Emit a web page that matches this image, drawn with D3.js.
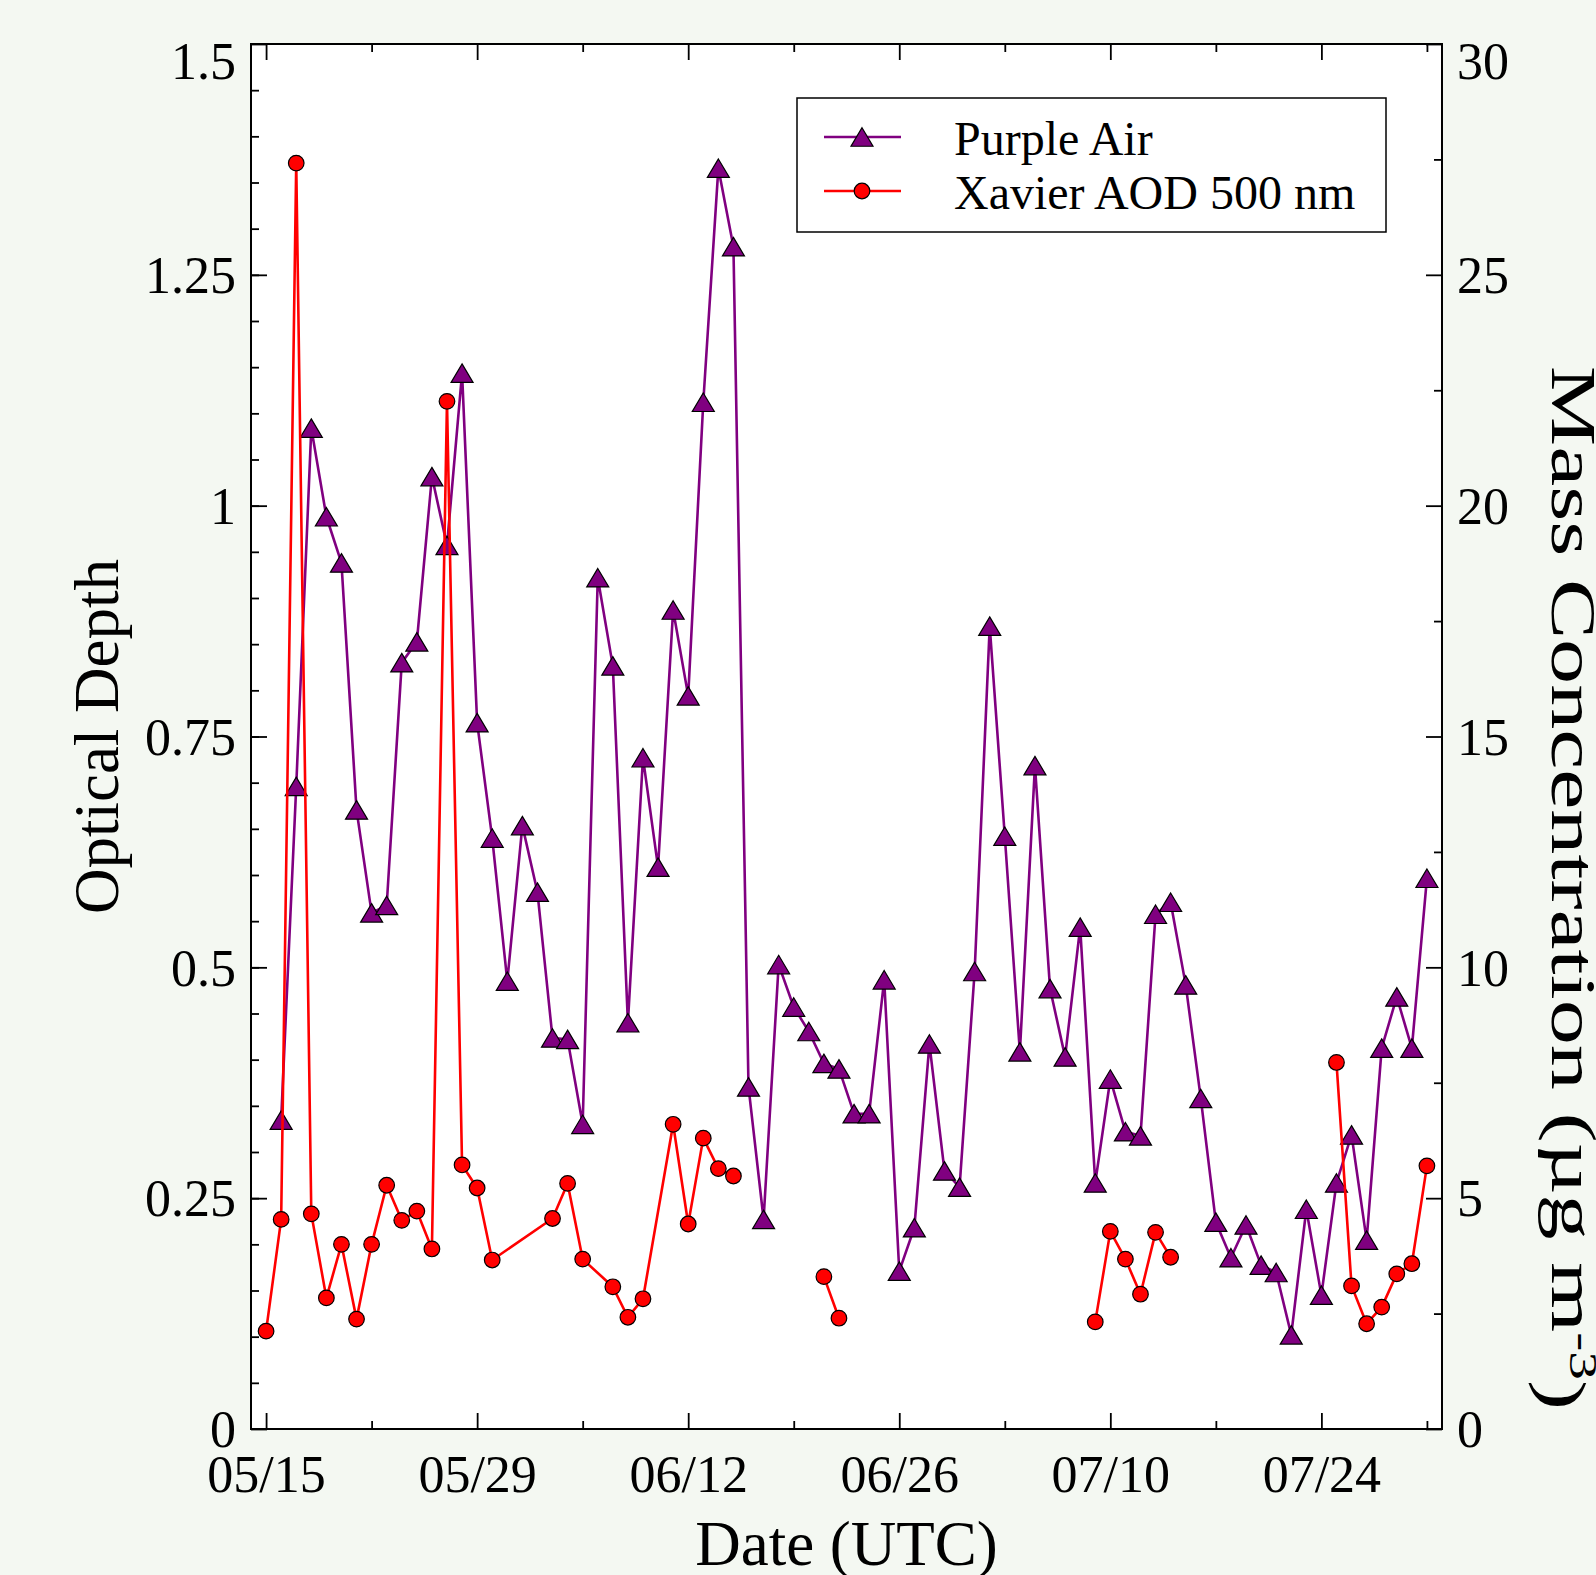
<!DOCTYPE html>
<html lang="en">
<head>
<meta charset="utf-8" />
<title>Purple Air vs Xavier AOD</title>
<style>
  * {margin: 0; padding: 0;}
  body {background: #f4f8f2;}
  svg {display: block;}
  text {font-family: "Liberation Serif", "Times New Roman", Times, serif; fill: #000;}
</style>
<script src="https://cdn.jsdelivr.net/npm/d3@7"></script>
</head>
<body>
<div id="viz"></div>
<script>

// ---- data ----
var purpleDates = [
  "05/16","05/17","05/18","05/19","05/20","05/21","05/22","05/23","05/24","05/25",
  "05/26","05/27","05/28","05/29","05/30","05/31","06/01","06/02","06/03","06/04",
  "06/05","06/06","06/07","06/08","06/09","06/10","06/11","06/12","06/13","06/14",
  "06/15","06/16","06/17","06/18","06/19","06/20","06/21","06/22","06/23","06/24",
  "06/25","06/26","06/27","06/28","06/29","06/30","07/01","07/02","07/03","07/04",
  "07/05","07/06","07/07","07/08","07/09","07/10","07/11","07/12","07/13","07/14",
  "07/15","07/16","07/17","07/18","07/19","07/20","07/21","07/22","07/23","07/24",
  "07/25","07/26","07/27","07/28","07/29","07/30","07/31"];
var purpleValues = [
  6.69, 13.92, 21.68, 19.76, 18.76, 13.41, 11.18, 11.34, 16.60, 17.05,
  20.63, 19.14, 22.87, 15.30, 12.80, 9.70, 13.07, 11.63, 8.47, 8.44,
  6.60, 18.44, 16.53, 8.80, 14.54, 12.17, 17.74, 15.88, 22.24, 27.31,
  25.61, 7.41, 4.54, 10.06, 9.14, 8.61, 7.92, 7.80, 6.83, 6.83,
  9.73, 3.42, 4.36, 8.34, 5.59, 5.24, 9.91, 17.39, 12.84, 8.17,
  14.37, 9.54, 8.06, 10.87, 5.33, 7.58, 6.44, 6.35, 11.15, 11.41,
  9.62, 7.16, 4.48, 3.71, 4.42, 3.55, 3.39, 2.04, 4.76, 2.90,
  5.33, 6.37, 4.09, 8.25, 9.36, 8.25, 11.93];

// null = break in the line
var aodDates = [
  "05/15","05/16","05/17","05/18","05/19","05/20","05/21","05/22","05/23","05/24",
  "05/25","05/26","05/27","05/28","05/29","05/30","06/03","06/04","06/05","06/07",
  "06/08","06/09","06/11","06/12","06/13","06/14","06/15","06/18",
  "06/21","06/22","07/01",
  "07/09","07/10","07/11","07/12","07/13","07/14","07/20",
  "07/25","07/26","07/27","07/28","07/29","07/30","07/31"];
var aodValues = [
  0.106, 0.227, 1.371, 0.233, 0.142, 0.200, 0.119, 0.200, 0.264, 0.226,
  0.236, 0.195, 1.113, 0.286, 0.261, 0.183, 0.228, 0.266, 0.184, 0.154,
  0.121, 0.141, 0.330, 0.222, 0.315, 0.282, 0.274, null,
  0.165, 0.120, null,
  0.116, 0.214, 0.184, 0.146, 0.213, 0.186, null,
  0.397, 0.155, 0.114, 0.132, 0.168, 0.179, 0.285];

var xMajorTicks = ["05/15","05/29","06/12","06/26","07/10","07/24"];
var xMinorTicks = ["05/22","06/05","06/19","07/03","07/17","07/31"];
var leftTicks = [0, 0.25, 0.5, 0.75, 1, 1.25, 1.5];
var leftTickLabels = ["0","0.25","0.5","0.75","1","1.25","1.5"];
var rightTicks = [0, 5, 10, 15, 20, 25, 30];
var rightTickLabels = ["0","5","10","15","20","25","30"];

// ---- layout ----
var W = 1596, H = 1575;
var L = 251, R = 1442, T = 44, B = 1429;
var parse = function(s){ return d3.utcParse("%Y/%m/%d")("2020/" + s); };
var fmt = d3.utcFormat("%m/%d");

var svg = d3.select("#viz").append("svg").attr("width", W).attr("height", H);
svg.append("rect").attr("width", W).attr("height", H).attr("fill", "#f4f8f2");
svg.append("rect").attr("x", L).attr("y", T).attr("width", R - L).attr("height", B - T)
   .attr("fill", "#fff");

var x = d3.scaleUtc().domain([parse("05/14"), parse("08/01")]).range([L, R]);
var yL = d3.scaleLinear().domain([0, 1.5]).range([B, T]);
var yR = d3.scaleLinear().domain([0, 30]).range([B, T]);

// ---- axes ----
function styleAxis(g){
  g.select(".domain").remove();
  g.attr("font-family", null).attr("font-size", null);
  g.selectAll("line").attr("stroke", "#000").attr("stroke-width", 1.8);
  g.selectAll("text").style("font-size", "52px");
}

var xMaj = xMajorTicks.map(parse), xMin = xMinorTicks.map(parse);

svg.append("g").attr("transform", "translate(0," + B + ")")
  .call(d3.axisBottom(x).tickValues(xMaj).tickFormat(fmt)
        .tickSizeInner(-16).tickSizeOuter(0).tickPadding(26))
  .call(styleAxis);
svg.append("g").attr("transform", "translate(0," + B + ")")
  .call(d3.axisBottom(x).tickValues(xMin).tickFormat("").tickSizeInner(-8).tickSizeOuter(0))
  .call(styleAxis);
svg.append("g").attr("transform", "translate(0," + T + ")")
  .call(d3.axisTop(x).tickValues(xMaj).tickFormat("").tickSizeInner(-16).tickSizeOuter(0))
  .call(styleAxis);
svg.append("g").attr("transform", "translate(0," + T + ")")
  .call(d3.axisTop(x).tickValues(xMin).tickFormat("").tickSizeInner(-8).tickSizeOuter(0))
  .call(styleAxis);

var gl = svg.append("g").attr("transform", "translate(" + L + ",0)")
  .call(d3.axisLeft(yL).tickValues(leftTicks)
        .tickFormat(function(d, i){ return leftTickLabels[i]; })
        .tickSizeInner(-16).tickSizeOuter(0).tickPadding(15))
  .call(styleAxis);
gl.selectAll("text").attr("dy", function(d){ return d === 1.5 ? "0.66em" : "0.34em"; });
svg.append("g").attr("transform", "translate(" + L + ",0)")
  .call(d3.axisLeft(yL).tickValues(d3.range(0.05, 1.5, 0.05)).tickFormat("")
        .tickSizeInner(-8).tickSizeOuter(0))
  .call(styleAxis);

var gr = svg.append("g").attr("transform", "translate(" + R + ",0)")
  .call(d3.axisRight(yR).tickValues(rightTicks)
        .tickFormat(function(d, i){ return rightTickLabels[i]; })
        .tickSizeInner(-16).tickSizeOuter(0).tickPadding(15))
  .call(styleAxis);
gr.selectAll("text").attr("dy", function(d){ return d === 30 ? "0.66em" : "0.34em"; });
svg.append("g").attr("transform", "translate(" + R + ",0)")
  .call(d3.axisRight(yR).tickValues(d3.range(2.5, 30, 5)).tickFormat("")
        .tickSizeInner(-8).tickSizeOuter(0))
  .call(styleAxis);

// ---- series ----
var triPath = "M0,-9.25L11,9.25L-11,9.25Z";

var purple = purpleDates.map(function(d, i){ return {t: parse(d), v: purpleValues[i]}; });
var aod = aodDates.map(function(d, i){ return {t: parse(d), v: aodValues[i]}; });

svg.append("path").datum(purple)
  .attr("fill", "none").attr("stroke", "#800080").attr("stroke-width", 2.6)
  .attr("stroke-linejoin", "round")
  .attr("d", d3.line().x(function(d){ return x(d.t); }).y(function(d){ return yR(d.v); }));

svg.append("g").selectAll("path").data(purple).enter().append("path")
  .attr("d", triPath)
  .attr("transform", function(d){ return "translate(" + x(d.t) + "," + yR(d.v) + ")"; })
  .attr("fill", "#800080").attr("stroke", "#000").attr("stroke-width", 1.2);

svg.append("path").datum(aod)
  .attr("fill", "none").attr("stroke", "#ff0000").attr("stroke-width", 2.6)
  .attr("stroke-linejoin", "round")
  .attr("d", d3.line().defined(function(d){ return d.v != null; })
        .x(function(d){ return x(d.t); }).y(function(d){ return yL(d.v); }));

svg.append("g").selectAll("circle").data(aod.filter(function(d){ return d.v != null; }))
  .enter().append("circle")
  .attr("cx", function(d){ return x(d.t); })
  .attr("cy", function(d){ return yL(d.v); })
  .attr("r", 7.8)
  .attr("fill", "#ff0000").attr("stroke", "#000").attr("stroke-width", 1.2);

// ---- frame ----
svg.append("rect").attr("x", L).attr("y", T).attr("width", R - L).attr("height", B - T)
   .attr("fill", "none").attr("stroke", "#000").attr("stroke-width", 2);

// ---- titles ----
svg.append("text").attr("x", (L + R) / 2).attr("y", 1565)
  .attr("text-anchor", "middle").style("font-size", "63px").text("Date (UTC)");

svg.append("text").attr("transform", "translate(118," + (T + B) / 2 + ") rotate(-90)")
  .attr("text-anchor", "middle").style("font-size", "63px").text("Optical Depth");

var rt = svg.append("text").attr("transform", "translate(1552,888) rotate(90)")
  .attr("text-anchor", "middle").style("font-size", "63px")
  .attr("textLength", 1044).attr("lengthAdjust", "spacingAndGlyphs");
rt.append("tspan").text("Mass Concentration (\u00b5g m");
rt.append("tspan").attr("dy", "-0.45em").style("font-size", "40px").text("-3");
rt.append("tspan").attr("dy", "0.45em").text(")");

// ---- legend ----
var lg = svg.append("g");
lg.append("rect").attr("x", 797).attr("y", 98).attr("width", 589).attr("height", 134)
  .attr("fill", "#fff").attr("stroke", "#000").attr("stroke-width", 1.5);

var legendItems = [
  {label: "Purple Air", color: "#800080", shape: "tri", y: 137},
  {label: "Xavier AOD 500 nm", color: "#ff0000", shape: "circle", y: 191}
];
legendItems.forEach(function(it){
  lg.append("line").attr("x1", 824).attr("x2", 901).attr("y1", it.y).attr("y2", it.y)
    .attr("stroke", it.color).attr("stroke-width", 2.6);
  if (it.shape === "tri") {
    lg.append("path").attr("d", triPath).attr("transform", "translate(862," + it.y + ")")
      .attr("fill", it.color).attr("stroke", "#000").attr("stroke-width", 1.2);
  } else {
    lg.append("circle").attr("cx", 862).attr("cy", it.y).attr("r", 7.8)
      .attr("fill", it.color).attr("stroke", "#000").attr("stroke-width", 1.2);
  }
  lg.append("text").attr("x", 954).attr("y", it.y).attr("dy", "0.38em")
    .style("font-size", "48px").text(it.label);
});
</script>
</body>
</html>
